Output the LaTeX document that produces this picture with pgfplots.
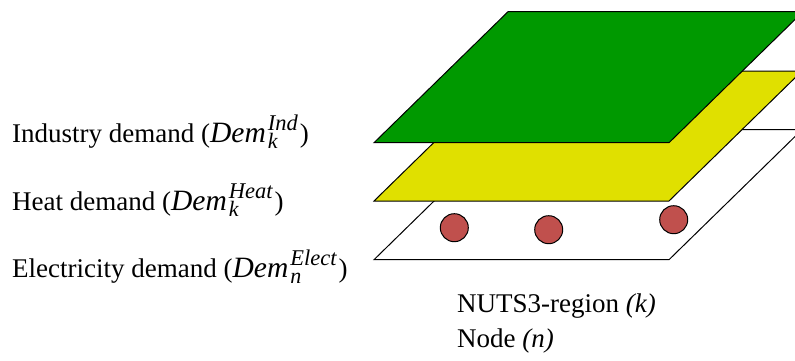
\documentclass[border=0pt]{standalone}
\usepackage{pgfplots}
\pgfplotsset{compat=1.18}
\usepackage{fontspec}
\setmainfont{Liberation Serif}
\definecolor{lgreen}{RGB}{0,153,0}
\definecolor{lyellow}{RGB}{224,224,0}
\definecolor{nodered}{RGB}{192,80,77}
\newcommand\dem[2]{{\fontsize{29.5}{29}\selectfont\itshape Dem}\hspace{2pt}\rlap{\raisebox{-6.5pt}{\fontsize{22}{22}\selectfont\itshape #1}}\raisebox{12pt}{\fontsize{22.5}{22}\selectfont\itshape #2}\hspace{2pt}}
\begin{document}
\begin{tikzpicture}
\begin{axis}[
  width=795pt, height=360pt, scale only axis,
  xmin=0, xmax=795, ymin=0, ymax=360, y dir=reverse,
  axis lines=none, ticks=none, clip=true,
]
% bottom layer (node layer)
\addplot[fill=white, draw=black, line width=1pt] coordinates {(374,259.7) (669,259.7) (802,129.7) (507,129.7)} -- cycle;
\addplot[only marks, mark=*, mark size=14pt, mark options={fill=nodered, draw=black, line width=1pt}] coordinates {(454.3,227.7) (548.7,229.7) (673.7,219.7)};
% heat layer
\addplot[fill=lyellow, draw=black, line width=1pt] coordinates {(374,201) (669,201) (802,71) (507,71)} -- cycle;
% industry layer
\addplot[fill=lgreen, draw=black, line width=1pt] coordinates {(374,142.7) (669,142.7) (803,11.7) (508,11.7)} -- cycle;
\node[anchor=base west, inner sep=0, font=\fontsize{27}{32}\selectfont] at (axis cs:12,142) {Industry demand (\dem{k}{Ind})};
\node[anchor=base west, inner sep=0, font=\fontsize{27}{32}\selectfont] at (axis cs:12,210) {Heat demand (\dem{k}{Heat})};
\node[anchor=base west, inner sep=0, font=\fontsize{27}{32}\selectfont] at (axis cs:12,277) {Electricity demand (\dem{n}{Elect})};
\node[anchor=base west, inner sep=0, font=\fontsize{27}{32}\selectfont] at (axis cs:457,312) {NUTS3-region \textit{(k)}};
\node[anchor=base west, inner sep=0, font=\fontsize{27}{32}\selectfont] at (axis cs:457,347) {Node \textit{(n)}};
\end{axis}
\useasboundingbox (current axis.south west) rectangle (current axis.north east);
\end{tikzpicture}
\end{document}
